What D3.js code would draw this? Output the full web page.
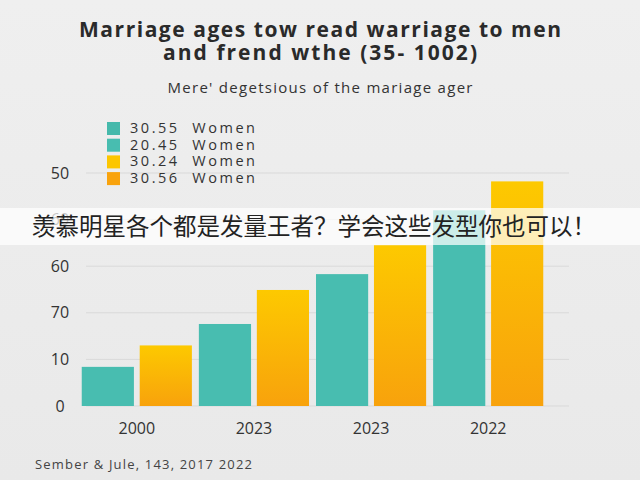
<!DOCTYPE html>
<html><head><meta charset="utf-8">
<script src="https://cdn.jsdelivr.net/npm/d3@7"></script>
<style>body{margin:0;background:#ececec}svg{display:block}</style>
</head><body>
<script>
var groups = ["2000", "2023", "2023 ", "2022"]
var seriesA = [8.4, 17.6, 28.3, 42]      // teal
var seriesB = [13, 24.9, 34.5, 48.2]     // orange
var tickValues = [0, 10, 20, 30, 40, 50]
var tickLabels = ["0", "10", "70", "60", "60", "50"]
var legendLabels = ["30.55  Women", "20.45  Women", "30.24  Women", "30.56  Women"]
var legendColors = ["#45b9ab", "#48bdb0", "#fcc600", "#f9a30d"]

var width = 640, height = 480
var svg = d3.select("body").append("svg").attr("width", width).attr("height", height)
  .style("font-family", "'Open Sans', 'DejaVu Sans', sans-serif")

var defs = svg.append("defs")
var bg = defs.append("linearGradient").attr("id", "bg").attr("x1", 0).attr("y1", 0).attr("x2", 0).attr("y2", 1)
bg.append("stop").attr("offset", 0).attr("stop-color", "#efefef")
bg.append("stop").attr("offset", 1).attr("stop-color", "#e9e9e9")
var og = defs.append("linearGradient").attr("id", "og").attr("x1", 0).attr("y1", 0).attr("x2", 0).attr("y2", 1)
og.append("stop").attr("offset", 0).attr("stop-color", "#fdc900")
og.append("stop").attr("offset", 1).attr("stop-color", "#f8a20c")
svg.append("rect").attr("width", width).attr("height", height).attr("fill", "url(#bg)")

var x = d3.scaleBand().domain(groups).range([80, 545]).paddingInner(0.03)
var xi = d3.scaleBand().domain([0, 1]).range([0, x.bandwidth()]).paddingInner(0.1).paddingOuter(0.03)
var y = d3.scaleLinear().domain([0, 50]).range([406, 173])

svg.append("g").selectAll("line").data(tickValues).join("line")
  .attr("x1", 86).attr("x2", 569).attr("y1", d => y(d)).attr("y2", d => y(d))
  .attr("stroke", "#d9d9d9").attr("stroke-width", 1)

svg.append("g").selectAll("text").data(tickValues).join("text")
  .attr("x", 60).attr("y", d => y(d)).attr("dy", "0.35em").attr("text-anchor", "middle")
  .attr("font-size", 16).attr("fill", "#333").text((d, i) => tickLabels[i])

var g = svg.append("g").selectAll("g").data(groups).join("g")
  .attr("transform", d => "translate(" + x(d) + ",0)")
g.append("rect").attr("x", xi(0)).attr("width", xi.bandwidth())
  .attr("y", (d, i) => y(seriesA[i])).attr("height", (d, i) => y(0) - y(seriesA[i])).attr("fill", "#48bdb0")
g.append("rect").attr("x", xi(1)).attr("width", xi.bandwidth())
  .attr("y", (d, i) => y(seriesB[i])).attr("height", (d, i) => y(0) - y(seriesB[i])).attr("fill", "url(#og)")

svg.append("g").selectAll("text").data(groups).join("text")
  .attr("x", d => x(d) + x.bandwidth() / 2).attr("y", 434).attr("text-anchor", "middle")
  .attr("font-size", 16).attr("fill", "#333").text(d => d.trim())

var lg = svg.append("g").selectAll("g").data(legendLabels).join("g")
  .attr("transform", (d, i) => "translate(107," + (128 + i * 16.7) + ")")
lg.append("rect").attr("x", 0).attr("y", -6).attr("width", 13).attr("height", 13).attr("fill", (d, i) => legendColors[i])
lg.append("text").attr("x", 23).attr("dy", "0.35em").attr("font-size", 14.5).attr("fill", "#333")
  .attr("xml:space", "preserve").attr("textLength", 125).text(d => d)

svg.append("text").attr("x", 320).attr("y", 37).attr("text-anchor", "middle")
  .attr("font-size", 21).attr("font-weight", "bold").attr("fill", "#2a2a2a")
  .attr("textLength", 482).text("Marriage ages tow read warriage to men")
svg.append("text").attr("x", 320).attr("y", 60).attr("text-anchor", "middle")
  .attr("font-size", 21).attr("font-weight", "bold").attr("fill", "#2a2a2a")
  .attr("textLength", 314).text("and frend wthe (35- 1002)")
svg.append("text").attr("x", 320).attr("y", 93).attr("text-anchor", "middle")
  .attr("font-size", 15).attr("fill", "#333").attr("textLength", 305).text("Mere' degetsious of the mariage ager")
svg.append("text").attr("x", 35).attr("y", 469)
  .attr("font-size", 13).attr("fill", "#444").attr("textLength", 217).text("Sember & Jule, 143, 2017 2022")

svg.append("rect").attr("x", 0).attr("y", 208).attr("width", width).attr("height", 37)
  .attr("fill", "#fff").attr("fill-opacity", 0.72)
svg.append("text").attr("x", 32).attr("y", 235)
  .attr("font-family", "'Noto Sans CJK SC', sans-serif").attr("font-size", 23.5).attr("fill", "#222")
  .text("羡慕明星各个都是发量王者？学会这些发型你也可以！")
</script>
</body></html>
